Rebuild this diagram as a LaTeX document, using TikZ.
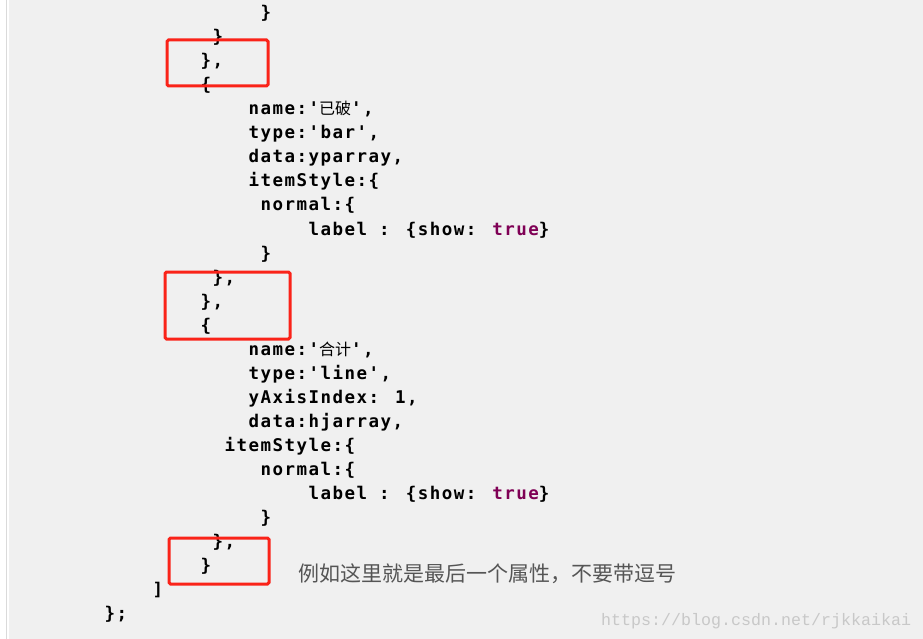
\documentclass[tikz,border=0pt]{standalone}
\usepackage{fontspec}
\newfontfamily\codefont{DejaVu Sans Mono}[Ligatures=TeXOff,LetterSpace=8.37]
\newfontfamily\cjk{Noto Sans CJK SC}
\newfontfamily\wmfont{Liberation Mono}[Ligatures=TeXOff]
\definecolor{bg}{RGB}{240,240,240}
\definecolor{edge}{RGB}{218,218,218}
\definecolor{kw}{RGB}{127,0,85}
\definecolor{boxred}{RGB}{250,35,25}
\definecolor{note}{RGB}{85,85,85}
\definecolor{wm}{RGB}{200,200,200}
\newcommand{\kwtrue}{\textcolor{kw}{true}}
\newcommand{\cn}[1]{{\cjk\mdseries\fontsize{16pt}{20pt}\selectfont #1}}
\begin{document}
\begin{tikzpicture}[x=1pt,y=-1pt,
  code/.style={anchor=base west,inner sep=0pt,text=black,
    font={\codefont\bfseries\fontsize{17.5pt}{20pt}\selectfont}},
  redbox/.style={draw=boxred,line width=3pt,rounded corners=1.5pt},
  notetext/.style={anchor=base west,inner sep=0pt,text=note,
    font={\cjk\fontsize{21pt}{24pt}\selectfont}},
  wmtext/.style={anchor=base west,inner sep=0pt,text=wm,
    font={\wmfont\fontsize{16.66pt}{20pt}\selectfont}}]
\useasboundingbox (0,0) rectangle (923,639);
\fill[bg] (0,0) rectangle (923,639);
\fill[white] (0,0) rectangle (9,639);
\draw[edge,line width=1pt] (6.5,0) -- (6.5,639);
% code lines
\node[code] (l1)  at (260.5,19)  {\}};
\node[code] (l2)  at (212.5,43)  {\}};
\node[code] (l3)  at (200.5,67)  {\},};
\node[code] (l4)  at (200.5,91)  {\{};
\node[code] (l5)  at (248.5,115) {name:'\cn{已破}',};
\node[code] (l6)  at (248.5,139) {type:'bar',};
\node[code] (l7)  at (248.5,163) {data:yparray,};
\node[code] (l8)  at (248.5,187) {itemStyle:\{};
\node[code] (l9)  at (260.5,211) {normal:\{};
\node[code] (l10) at (308.5,235) {label : \{show: \kwtrue\}};
\node[code] (l11) at (260.5,259) {\}};
\node[code] (l12) at (212.5,283) {\},};
\node[code] (l13) at (200.5,307) {\},};
\node[code] (l14) at (200.5,331) {\{};
\node[code] (l15) at (248.5,355) {name:'\cn{合计}',};
\node[code] (l16) at (248.5,379) {type:'line',};
\node[code] (l17) at (248.5,403) {yAxisIndex: 1,};
\node[code] (l18) at (248.5,427) {data:hjarray,};
\node[code] (l19) at (224.5,451) {itemStyle:\{};
\node[code] (l20) at (260.5,475) {normal:\{};
\node[code] (l21) at (308.5,499) {label : \{show: \kwtrue\}};
\node[code] (l22) at (260.5,523) {\}};
\node[code] (l23) at (212.5,547) {\},};
\node[code] (l24) at (200.5,571) {\}};
\node[code] (l25) at (152.5,595) {]};
\node[code] (l26) at (104.5,619) {\};};
% red boxes
\draw[redbox] (167,40) rectangle (268,86);
\draw[redbox] (165,272) rectangle (290,339);
\draw[redbox] (169,538) rectangle (269,584);
% note and watermark
\node[notetext] (note) at (298,581) {例如这里就是最后一个属性，不要带逗号};
\node[wmtext] (wm) at (601,625) {https://blog.csdn.net/rjkkaikai};
\end{tikzpicture}
\end{document}
